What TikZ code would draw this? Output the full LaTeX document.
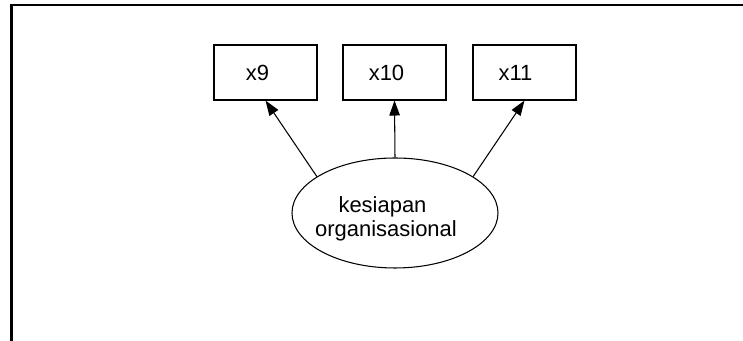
\documentclass[tikz,border=0pt]{standalone}
\usepackage{fontspec}
\setmainfont{Liberation Sans}
\usetikzlibrary{arrows.meta, shapes.geometric}

\begin{document}
\begin{tikzpicture}[
    font=\fontsize{12.5}{13.6}\selectfont,
    indicator/.style={draw, line width=0.6pt, minimum width=2.06cm, minimum height=1.1cm, inner sep=0pt},
    latent/.style={draw, ellipse, line width=0.6pt, minimum width=4.12cm, minimum height=2.2cm, inner sep=0pt, align=center},
    loading/.style={line width=0.6pt, -{Triangle[length=0.3cm, width=0.21cm]}}
]

    % --- Page area and frame ---
    \useasboundingbox (0,0) rectangle (14.86,6.82);
    \coordinate (F0) at (0.23,0);      % Bottom of left frame line
    \coordinate (F1) at (0.23,6.72);   % Top left corner
    \coordinate (F2) at (14.9,6.72);   % Top line runs off the right edge
    \draw[line width=1.2pt, line cap=rect] (F0) -- (F1) -- (F2);

    % --- Observed indicators ---
    % (labels sit a little left of and below the box centre)
    \node[indicator] (x9)  at (5.31,5.37) {\raisebox{-0.07cm}{x9}\hspace*{0.32cm}};
    \node[indicator] (x10) at (7.89,5.37) {\raisebox{-0.07cm}{x10}\hspace*{0.32cm}};
    \node[indicator] (x11) at (10.49,5.37) {\raisebox{-0.07cm}{x11}\hspace*{0.36cm}};

    % --- Latent variable ---
    \node[latent] (kesiapan) at (7.9,2.56)
        {\rule{0pt}{0.56cm}\hspace*{-0.5cm}kesiapan\\\hspace*{-0.36cm}organisasional};

    % Loadings
    \draw[loading] (kesiapan.155) -- (x9.south);
    \draw[loading] (kesiapan.90) -- (x10.south);
    \draw[loading] (kesiapan.25) -- (x11.south);

\end{tikzpicture}
\end{document}
